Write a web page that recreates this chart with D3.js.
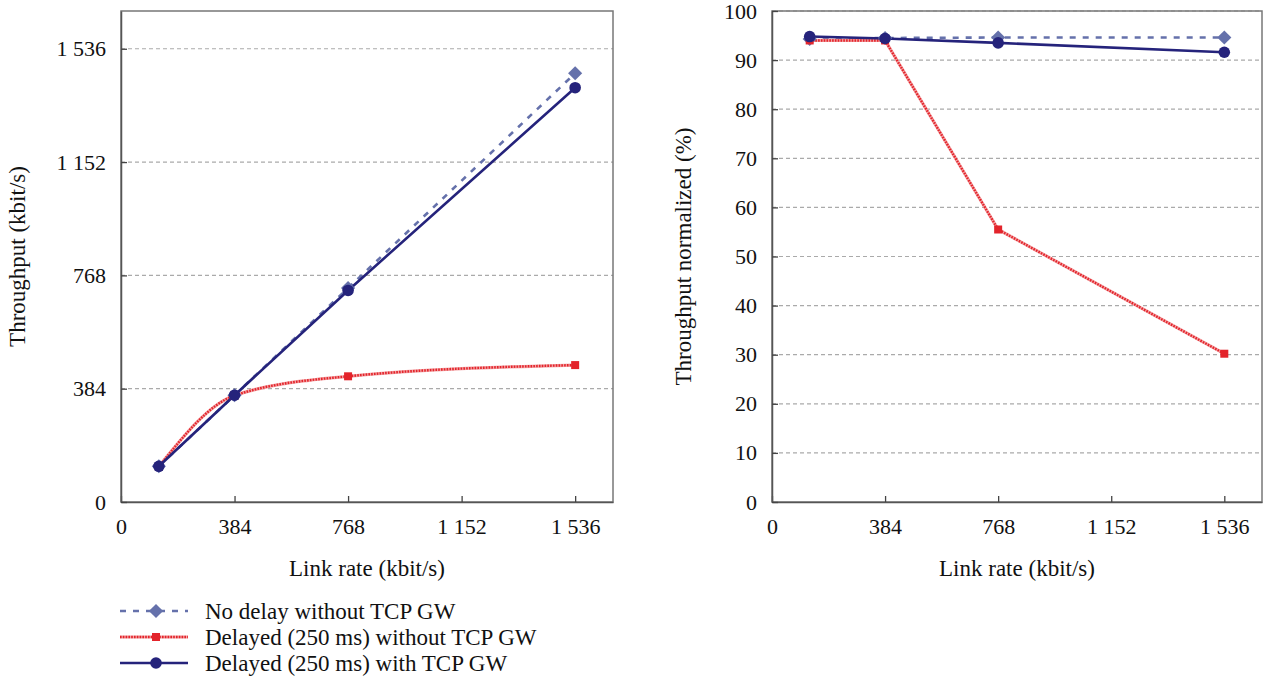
<!DOCTYPE html>
<html>
<head>
<meta charset="utf-8">
<script src="https://cdn.jsdelivr.net/npm/d3@7"></script>
<style>
  html, body { margin: 0; padding: 0; background: #fff; }
  svg { display: block; }
  svg text { font-family: "Liberation Serif", "DejaVu Serif", "Noto Serif", "Times New Roman", serif; fill: #111; }
</style>
</head>
<body>
<svg id="chart" width="1265" height="679"></svg>
<script>
// Link rates (kbit/s)
const linkRates = [128, 384, 768, 1536];
const tickValuesX = [0, 384, 768, 1152, 1536];
const tickValuesLeftY = [0, 384, 768, 1152, 1536];
const tickValuesRightY = [0, 10, 20, 30, 40, 50, 60, 70, 80, 90, 100];

// Absolute throughput (kbit/s)
const noDelayThroughput = [121, 362, 725, 1453];
const delayedNoGwThroughput = [120, 361, 426, 464];
const delayedGwThroughput = [121, 362, 717, 1404];

// Throughput normalized to link rate (%)
const noDelayNorm = [94.3, 94.5, 94.6, 94.6];
const delayedNoGwNorm = [94.0, 94.0, 55.5, 30.2];
const delayedGwNorm = [94.8, 94.4, 93.5, 91.6];

const seriesNames = [
  "No delay without TCP GW",
  "Delayed (250 ms) without TCP GW",
  "Delayed (250 ms) with TCP GW"
];

const colors = { diamond: "#6571ab", red: "#e3242b", redLight: "#f3a2a4", navy: "#25237b" };
const serif = '"Liberation Serif", "DejaVu Serif", "Noto Serif", "Times New Roman", serif';

const svg = d3.select("#chart");
const fmt = v => d3.format(",")(v).replace(/,/g, " ");

function drawPanel(opts) {
  const { left, right, top, bottom, yDomain, yTicks, yFormat, yTitle, yTitleX, series } = opts;
  const x = d3.scaleLinear().domain([0, 1664]).range([left, right]);
  const y = d3.scaleLinear().domain(yDomain).range([bottom, top]);
  const g = svg.append("g");

  // gridlines
  g.append("g").selectAll("line")
    .data(yTicks.filter(t => t > 0))
    .join("line")
    .attr("x1", left).attr("x2", right)
    .attr("y1", d => y(d)).attr("y2", d => y(d))
    .attr("stroke", "#aaaaaa").attr("stroke-width", 1.2)
    .attr("stroke-dasharray", "4,3");

  // frame
  g.append("rect")
    .attr("x", left).attr("y", top)
    .attr("width", right - left).attr("height", bottom - top)
    .attr("fill", "none").attr("stroke", "#777").attr("stroke-width", 1.5);

  // axes with inward ticks
  const xAxis = g.append("g").attr("transform", `translate(0,${bottom})`)
    .call(d3.axisBottom(x).tickValues(tickValuesX).tickSizeInner(-6).tickSizeOuter(0).tickPadding(13).tickFormat(fmt));
  const yAxis = g.append("g").attr("transform", `translate(${left},0)`)
    .call(d3.axisLeft(y).tickValues(yTicks).tickSizeInner(-6).tickSizeOuter(0).tickPadding(15).tickFormat(yFormat));
  [xAxis, yAxis].forEach(a => {
    a.attr("font-family", serif);
    a.select(".domain").attr("stroke", "#555").attr("stroke-width", 1.5);
    a.selectAll(".tick line").attr("stroke", "#444").attr("stroke-width", 1.3);
    a.selectAll(".tick text").attr("font-size", 22).attr("font-family", serif).attr("fill", "#111");
  });
  xAxis.selectAll(".tick text").attr("dy", "0.85em");

  // axis titles
  g.append("text")
    .attr("x", (left + right) / 2).attr("y", 576)
    .attr("text-anchor", "middle").attr("font-size", 23).attr("font-family", serif)
    .text("Link rate (kbit/s)");
  g.append("text")
    .attr("transform", `translate(${yTitleX},${(top + bottom) / 2}) rotate(-90)`)
    .attr("text-anchor", "middle").attr("font-size", 23).attr("font-family", serif)
    .text(yTitle);

  // series
  series.forEach(s => {
    const pts = linkRates.map((r, i) => [x(r), y(s.values[i])]);
    const line = d3.line().curve(s.curve || d3.curveLinear);
    if (s.kind === "diamond") {
      g.append("path").attr("d", line(pts)).attr("fill", "none")
        .attr("stroke", colors.diamond).attr("stroke-width", 2.6)
        .attr("stroke-dasharray", "6,7");
    } else if (s.kind === "red") {
      g.append("path").attr("d", line(pts)).attr("fill", "none")
        .attr("stroke", colors.redLight).attr("stroke-width", 3.2);
      g.append("path").attr("d", line(pts)).attr("fill", "none")
        .attr("stroke", colors.red).attr("stroke-width", 2.4)
        .attr("stroke-dasharray", "1.6,1.2");
    } else {
      g.append("path").attr("d", line(pts)).attr("fill", "none")
        .attr("stroke", colors.navy).attr("stroke-width", 2.6);
    }
    s.points = pts;
  });
  // markers on top
  series.forEach(s => {
    s.points.forEach(p => drawMarker(g, s.kind, p[0], p[1]));
  });
}

function drawMarker(g, kind, cx, cy) {
  if (kind === "diamond") {
    g.append("rect").attr("x", -5).attr("y", -5).attr("width", 10).attr("height", 10)
      .attr("transform", `translate(${cx},${cy}) rotate(45)`).attr("fill", colors.diamond);
  } else if (kind === "red") {
    g.append("rect").attr("x", cx - 4).attr("y", cy - 4).attr("width", 8).attr("height", 8)
      .attr("fill", colors.red);
  } else {
    g.append("circle").attr("cx", cx).attr("cy", cy).attr("r", 5.8).attr("fill", colors.navy);
  }
}

drawPanel({
  left: 121, right: 613, top: 11, bottom: 502,
  yDomain: [0, 1664], yTicks: tickValuesLeftY, yFormat: fmt,
  yTitle: "Throughput (kbit/s)", yTitleX: 25,
  series: [
    { kind: "diamond", values: noDelayThroughput },
    { kind: "red", values: delayedNoGwThroughput, curve: d3.curveMonotoneX },
    { kind: "navy", values: delayedGwThroughput }
  ]
});

drawPanel({
  left: 772, right: 1262, top: 11, bottom: 502,
  yDomain: [0, 100], yTicks: tickValuesRightY, yFormat: d3.format("d"),
  yTitle: "Throughput normalized (%)", yTitleX: 691,
  series: [
    { kind: "diamond", values: noDelayNorm },
    { kind: "red", values: delayedNoGwNorm },
    { kind: "navy", values: delayedGwNorm }
  ]
});

// legend
const legend = svg.append("g");
const kinds = ["diamond", "red", "navy"];
kinds.forEach((k, i) => {
  const cy = 611 + i * 26;
  const x1 = 120, x2 = 188;
  if (k === "diamond") {
    legend.append("line").attr("x1", x1).attr("x2", x2).attr("y1", cy).attr("y2", cy)
      .attr("stroke", colors.diamond).attr("stroke-width", 2.6).attr("stroke-dasharray", "6,7");
  } else if (k === "red") {
    legend.append("line").attr("x1", x1).attr("x2", x2).attr("y1", cy).attr("y2", cy)
      .attr("stroke", colors.redLight).attr("stroke-width", 3.2);
    legend.append("line").attr("x1", x1).attr("x2", x2).attr("y1", cy).attr("y2", cy)
      .attr("stroke", colors.red).attr("stroke-width", 2.4).attr("stroke-dasharray", "1.6,1.2");
  } else {
    legend.append("line").attr("x1", x1).attr("x2", x2).attr("y1", cy).attr("y2", cy)
      .attr("stroke", colors.navy).attr("stroke-width", 2.6);
  }
  drawMarker(legend, k, (x1 + x2) / 2 + 2, cy);
  legend.append("text").attr("x", 205).attr("y", cy).attr("dy", "0.35em")
    .attr("font-size", 23).attr("font-family", serif).text(seriesNames[i]);
});
</script>
</body>
</html>
